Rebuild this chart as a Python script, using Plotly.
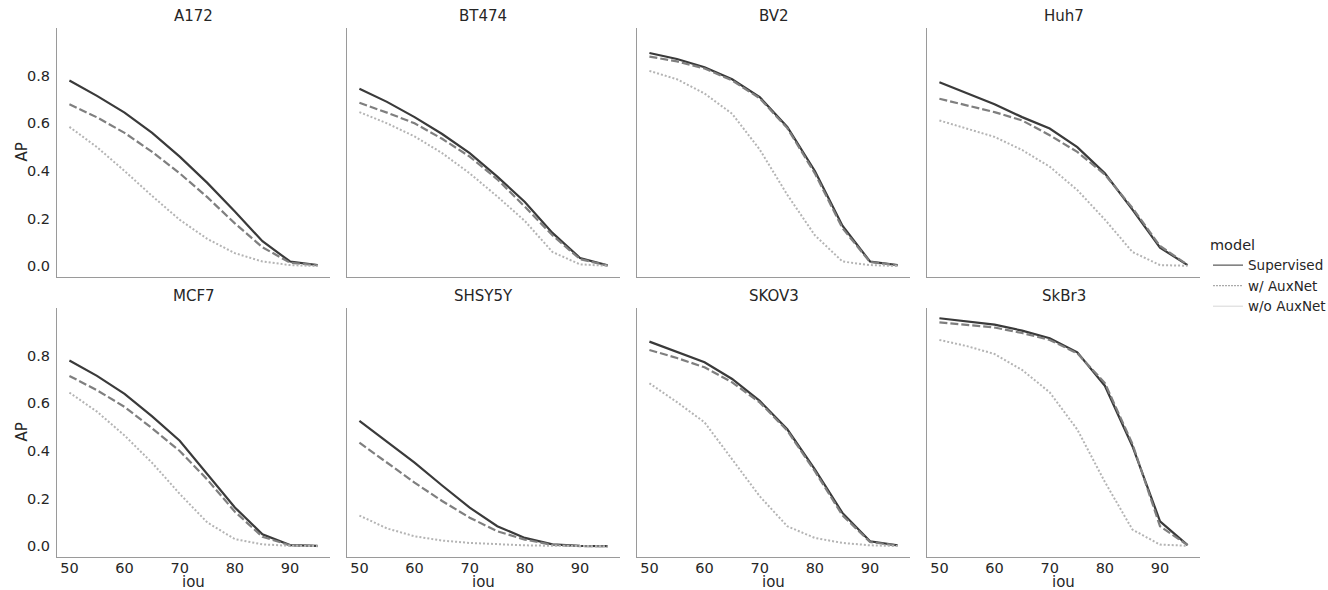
import plotly.graph_objects as go

iou = [50, 55, 60, 65, 70, 75, 80, 85, 90, 95]
cells = ["A172", "BT474", "BV2", "Huh7", "MCF7", "SHSY5Y", "SKOV3", "SkBr3"]
models = ["Supervised", "w/ AuxNet", "w/o AuxNet"]

A172_sup = [0.78, 0.715, 0.645, 0.56, 0.46, 0.35, 0.23, 0.105, 0.02, 0.005]
A172_w = [0.68, 0.625, 0.56, 0.48, 0.39, 0.29, 0.18, 0.08, 0.015, 0.004]
A172_wo = [0.585, 0.50, 0.40, 0.295, 0.195, 0.115, 0.055, 0.02, 0.005, 0.001]

BT474_sup = [0.745, 0.69, 0.626, 0.555, 0.475, 0.376, 0.27, 0.14, 0.035, 0.004]
BT474_w = [0.686, 0.645, 0.6, 0.535, 0.46, 0.365, 0.25, 0.13, 0.03, 0.003]
BT474_wo = [0.647, 0.6, 0.545, 0.475, 0.39, 0.293, 0.19, 0.06, 0.008, 0.002]

BV2_sup = [0.895, 0.87, 0.835, 0.785, 0.71, 0.585, 0.40, 0.17, 0.02, 0.005]
BV2_w = [0.88, 0.86, 0.83, 0.78, 0.705, 0.58, 0.39, 0.16, 0.018, 0.004]
BV2_wo = [0.82, 0.785, 0.725, 0.64, 0.49, 0.30, 0.13, 0.02, 0.005, 0.001]

Huh7_sup = [0.772, 0.727, 0.68, 0.626, 0.578, 0.5, 0.39, 0.238, 0.078, 0.005]
Huh7_w = [0.703, 0.675, 0.647, 0.612, 0.55, 0.48, 0.385, 0.245, 0.085, 0.006]
Huh7_wo = [0.612, 0.578, 0.543, 0.488, 0.418, 0.32, 0.196, 0.06, 0.005, 0.002]

MCF7_sup = [0.78, 0.715, 0.64, 0.545, 0.443, 0.305, 0.163, 0.05, 0.005, 0.002]
MCF7_w = [0.715, 0.655, 0.585, 0.495, 0.40, 0.28, 0.145, 0.04, 0.004, 0.001]
MCF7_wo = [0.645, 0.565, 0.465, 0.35, 0.22, 0.10, 0.03, 0.008, 0.002, 0.001]

SHSY5Y_sup = [0.526, 0.438, 0.351, 0.255, 0.162, 0.084, 0.035, 0.008, 0.002, 0.001]
SHSY5Y_w = [0.435, 0.35, 0.267, 0.19, 0.12, 0.063, 0.028, 0.006, 0.001, 0.0]
SHSY5Y_wo = [0.129, 0.075, 0.042, 0.024, 0.014, 0.008, 0.004, 0.002, 0.001, 0.0]

SKOV3_sup = [0.859, 0.815, 0.772, 0.702, 0.61, 0.491, 0.323, 0.14, 0.021, 0.004]
SKOV3_w = [0.824, 0.79, 0.751, 0.688, 0.604, 0.485, 0.315, 0.13, 0.018, 0.003]
SKOV3_wo = [0.684, 0.605, 0.52, 0.365, 0.21, 0.084, 0.035, 0.014, 0.004, 0.001]

SkBr3_sup = [0.957, 0.943, 0.93, 0.905, 0.873, 0.814, 0.674, 0.42, 0.105, 0.005]
SkBr3_w = [0.94, 0.93, 0.918, 0.895, 0.866, 0.81, 0.685, 0.43, 0.084, 0.005]
SkBr3_wo = [0.866, 0.84, 0.807, 0.74, 0.646, 0.49, 0.27, 0.07, 0.007, 0.002]

data = {
    "A172": [A172_sup, A172_w, A172_wo],
    "BT474": [BT474_sup, BT474_w, BT474_wo],
    "BV2": [BV2_sup, BV2_w, BV2_wo],
    "Huh7": [Huh7_sup, Huh7_w, Huh7_wo],
    "MCF7": [MCF7_sup, MCF7_w, MCF7_wo],
    "SHSY5Y": [SHSY5Y_sup, SHSY5Y_w, SHSY5Y_wo],
    "SKOV3": [SKOV3_sup, SKOV3_w, SKOV3_wo],
    "SkBr3": [SkBr3_sup, SkBr3_w, SkBr3_wo],
}

W, H = 1328, 590
col_px = [(57, 330), (347, 620), (637, 910), (927, 1200)]
row_px = [(28, 277), (308, 557)]


def px_x(p):
    return p / W


def px_y(p):
    return 1 - p / H


line_styles = [
    dict(color="#3a3a3a", width=2.2, dash="solid"),
    dict(color="#7f7f7f", width=2.2, dash="8px,3px"),
    dict(color="#b4b4b4", width=2.0, dash="2px,2px"),
]
legend_styles = [
    dict(color="#555555", width=1.2, dash="solid"),
    dict(color="#aaaaaa", width=1.2, dash="2px,1px"),
    dict(color="#dddddd", width=1.2, dash="solid"),
]

FONT = "DejaVu Sans"
TXT = "#262626"
fig = go.Figure()
layout = {}
annotations = []

for i, cell in enumerate(cells):
    r, c = divmod(i, 4)
    n = i + 1
    xa = "x" if n == 1 else f"x{n}"
    ya = "y" if n == 1 else f"y{n}"
    for k, m in enumerate(models):
        fig.add_trace(go.Scatter(
            x=iou, y=data[cell][k], mode="lines", name=m,
            line=line_styles[k], xaxis=xa, yaxis=ya, showlegend=False,
        ))
    x0, x1 = col_px[c]
    y0, y1 = row_px[r]
    xdom = [px_x(x0), px_x(x1)]
    ydom = [px_y(y1), px_y(y0)]
    xkey = "xaxis" if n == 1 else f"xaxis{n}"
    ykey = "yaxis" if n == 1 else f"yaxis{n}"
    layout[xkey] = dict(
        domain=xdom, anchor=ya, range=[47.75, 97.25], automargin=False,
        tickvals=[50, 60, 70, 80, 90], showticklabels=(r == 1),
        showline=True, linecolor="#9a9a9a", linewidth=1,
        showgrid=False, zeroline=False, ticks="", ticklabelstandoff=-2,
        tickfont=dict(family=FONT, size=14.5, color=TXT),
    )
    layout[ykey] = dict(
        domain=ydom, anchor=xa, range=[-0.045, 1.0], automargin=False,
        tickvals=[0.0, 0.2, 0.4, 0.6, 0.8], tickformat=".1f",
        showticklabels=(c == 0),
        showline=True, linecolor="#9a9a9a", linewidth=1,
        showgrid=False, zeroline=False,
        ticks="outside", ticklen=3, tickcolor="rgba(0,0,0,0)",
        tickfont=dict(family=FONT, size=14.5, color=TXT),
    )
    annotations.append(dict(
        text=cell, x=(xdom[0] + xdom[1]) / 2, y=ydom[1], xref="paper", yref="paper",
        xanchor="center", yanchor="bottom", yshift=1, showarrow=False,
        font=dict(family=FONT, size=15, color=TXT),
    ))
    if r == 1:
        annotations.append(dict(
            text="iou", x=(xdom[0] + xdom[1]) / 2, y=px_y(582), xref="paper", yref="paper",
            xanchor="center", yanchor="middle", showarrow=False,
            font=dict(family=FONT, size=15, color=TXT),
        ))
    if c == 0:
        annotations.append(dict(
            text="AP", x=px_x(21), y=(ydom[0] + ydom[1]) / 2, xref="paper", yref="paper",
            xanchor="center", yanchor="middle", textangle=-90, showarrow=False,
            font=dict(family=FONT, size=15, color=TXT),
        ))

for k, m in enumerate(models):
    fig.add_trace(go.Scatter(
        x=[None], y=[None], mode="lines", name=m, line=legend_styles[k],
        showlegend=True,
    ))

fig.update_layout(
    width=W, height=H,
    margin=dict(l=0, r=0, t=0, b=0, autoexpand=False),
    paper_bgcolor="white", plot_bgcolor="white",
    annotations=annotations,
    legend=dict(
        x=px_x(1208), y=px_y(231), xanchor="left", yanchor="top",
        title=dict(text="model", font=dict(family=FONT, size=14.5, color=TXT)),
        font=dict(family=FONT, size=13.5, color=TXT),
        tracegroupgap=0, itemwidth=30, bgcolor="rgba(0,0,0,0)",
    ),
    **layout,
)

fig.write_html(
    "out.html",
    config={"displayModeBar": False},
    post_script="document.body.style.margin='0';document.body.style.overflow='hidden';",
)
